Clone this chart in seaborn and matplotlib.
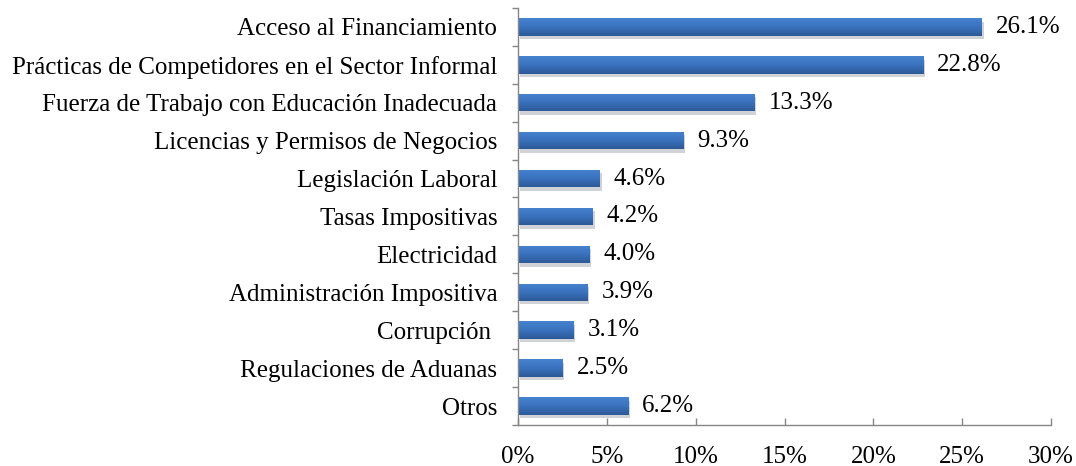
import numpy as np
import pandas as pd
import matplotlib.pyplot as plt
import matplotlib.patheffects as pe
from matplotlib.colors import LinearSegmentedColormap
from matplotlib.ticker import FixedLocator, FuncFormatter
import seaborn as sns

# Data
categories = [
    "Acceso al Financiamiento",
    "Prácticas de Competidores en el Sector Informal",
    "Fuerza de Trabajo con Educación Inadecuada",
    "Licencias y Permisos de Negocios",
    "Legislación Laboral",
    "Tasas Impositivas",
    "Electricidad",
    "Administración Impositiva",
    "Corrupción ",
    "Regulaciones de Aduanas",
    "Otros",
]
values = [26.1, 22.8, 13.3, 9.3, 4.6, 4.2, 4.0, 3.9, 3.1, 2.5, 6.2]
x_ticks = [0, 5, 10, 15, 20, 25, 30]

df = pd.DataFrame({"categoria": categories, "valor": values})

sns.set_style("white")
plt.rcParams['font.family'] = ['Liberation Serif', 'DejaVu Serif']
fs = 18

fig = plt.figure(figsize=(10.76, 4.66), dpi=100)
ax = fig.add_axes([0.4814, 0.088, 0.4954, 0.895])

sns.barplot(data=df, x="valor", y="categoria", orient="h", color="#3A70B8",
            width=0.46, saturation=1, ax=ax)

# vertical gradient on the bars (lighter top, darker bottom)
grad_cmap = LinearSegmentedColormap.from_list("bar", ["#4683CF", "#3A72BE", "#2C5996"])
grad = np.linspace(0, 1, 64).reshape(-1, 1)
for bar in ax.patches:
    bar.set_edgecolor("none")
    bar.set_path_effects([pe.SimplePatchShadow(offset=(1.5, -2.5), alpha=0.2), pe.Normal()])
    x0, y0 = bar.get_x(), bar.get_y()
    w, h = bar.get_width(), bar.get_height()
    im = ax.imshow(grad, cmap=grad_cmap, aspect="auto", interpolation="bilinear",
                   extent=(x0, x0 + w, y0 + h, y0), zorder=bar.get_zorder() + 0.1)
    im.set_clip_path(bar)

# value labels
for i, v in enumerate(values):
    ax.text(v + 0.8, i, f"{v:.1f}%", va="center", ha="left", fontsize=fs, color="black")

ax.set_xlim(0, 30)
ax.set_ylim(len(categories) - 0.5, -0.5)
ax.set_xticks(x_ticks)
ax.xaxis.set_major_formatter(FuncFormatter(lambda x, p: f"{x:.0f}%"))
ax.set_xlabel("")
ax.set_ylabel("")

ax.yaxis.set_minor_locator(FixedLocator(np.arange(-0.5, len(categories), 1)))
ax.tick_params(axis="y", which="major", left=True, length=0, pad=15, labelsize=fs, colors="black")
ax.tick_params(axis="y", which="minor", left=True, length=4, direction="out", color="#868686", width=1)
ax.tick_params(axis="x", which="major", bottom=True, length=5, direction="in",
               width=1, pad=15, labelsize=fs, labelcolor="black", color="#868686")

for side in ["top", "right"]:
    ax.spines[side].set_visible(False)
for side in ["left", "bottom"]:
    ax.spines[side].set_color("#868686")
    ax.spines[side].set_linewidth(1)

fig.savefig("out.png", dpi=100)
